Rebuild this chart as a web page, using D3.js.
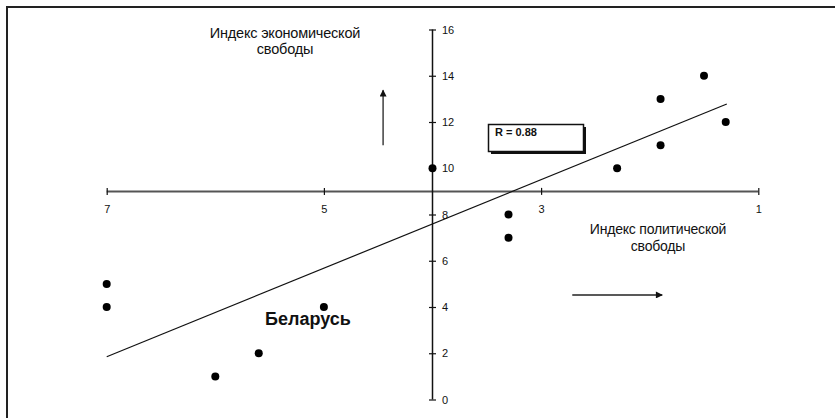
<!DOCTYPE html>
<html>
<head>
<meta charset="utf-8">
<script src="https://cdn.jsdelivr.net/npm/d3@7"></script>
<style>
  body { margin: 0; background: #fff; }
  text { font-family: "Liberation Sans", Arial, sans-serif; fill: #111; }
</style>
</head>
<body>
<div id="screen"></div>
<script>
// data
var polFreedom = [4, 2.3, 1.9, 1.9, 1.5, 1.3, 3.3, 3.3, 7, 7, 5, 5.6, 6];
var ecoFreedom = [10, 10, 13, 11, 14, 12, 8, 7, 5, 4, 4, 2, 1];
var trendX = [7, 1.29];
var trendY = [1.85, 12.78];
var xTicks = [7, 5, 3, 1];
var yTicks = [0, 2, 4, 6, 8, 10, 12, 14, 16];
var rLabel = "R = 0.88";
var yTitle = ["Индекс экономической", "свободы"];
var xTitle = ["Индекс политической", "свободы"];
var countryLabel = "Беларусь";

var width = 835, height = 418;

var svg = d3.select("#screen").append("svg")
    .attr("width", width).attr("height", height);

var x = d3.scaleLinear().domain([7, 1]).range([106.7, 758.3]);
var y = d3.scaleLinear().domain([0, 16]).range([399.5, 29.5]);

// crossing point of the two axes (x = 4, y = 9)
var xCross = x(4), yCross = y(9);

// frame (top and left edge only)
svg.append("line").attr("x1", 6).attr("x2", width).attr("y1", 7).attr("y2", 7)
    .attr("stroke", "#222").attr("stroke-width", 2);
svg.append("line").attr("x1", 7).attr("x2", 7).attr("y1", 6).attr("y2", height)
    .attr("stroke", "#222").attr("stroke-width", 2);

svg.append("defs").append("marker")
    .attr("id", "arrow")
    .attr("viewBox", "0 0 10 10")
    .attr("refX", 9).attr("refY", 5)
    .attr("markerWidth", 9).attr("markerHeight", 7)
    .attr("markerUnits", "userSpaceOnUse")
    .attr("orient", "auto")
    .append("path").attr("d", "M0,0L10,5L0,10z").attr("fill", "#111");

// x axis (horizontal, crossing at y = 9)
svg.append("line")
    .attr("x1", x(7)).attr("x2", x(1)).attr("y1", yCross).attr("y2", yCross)
    .attr("stroke", "#555").attr("stroke-width", 2);
var gx = svg.append("g")
    .attr("transform", "translate(0," + (yCross - 3.5) + ")")
    .call(d3.axisBottom(x).tickValues(xTicks).tickSize(7).tickPadding(10).tickFormat(d3.format("d")));
gx.select(".domain").remove();
gx.selectAll("line").attr("stroke", "#111").attr("stroke-width", 1.2);
gx.selectAll("text").style("font-size", "11px")
    .style("font-family", "'Liberation Sans', Arial, sans-serif").attr("fill", "#111");

// y axis (vertical, crossing at x = 4)
svg.append("line")
    .attr("x1", xCross).attr("x2", xCross).attr("y1", y(0)).attr("y2", y(16))
    .attr("stroke", "#111").attr("stroke-width", 1.5);
var gy = svg.append("g")
    .attr("transform", "translate(" + (xCross - 3.5) + ",0)")
    .call(d3.axisRight(y).tickValues(yTicks).tickSize(7).tickPadding(6));
gy.select(".domain").remove();
gy.selectAll("line").attr("stroke", "#111").attr("stroke-width", 1.2);
gy.selectAll("text").style("font-size", "11px")
    .style("font-family", "'Liberation Sans', Arial, sans-serif").attr("fill", "#111");

// trend line
svg.append("line")
    .attr("x1", x(trendX[0])).attr("y1", y(trendY[0]))
    .attr("x2", x(trendX[1])).attr("y2", y(trendY[1]))
    .attr("stroke", "#111").attr("stroke-width", 1.2);

// points
svg.selectAll("circle.pt")
    .data(polFreedom)
    .enter().append("circle")
    .attr("class", "pt")
    .attr("cx", d => x(d))
    .attr("cy", (d, i) => y(ecoFreedom[i]))
    .attr("r", 4)
    .attr("fill", "#000");

// direction arrows
svg.append("line")
    .attr("x1", x(4.455)).attr("x2", x(4.455)).attr("y1", y(10.99)).attr("y2", y(13.37))
    .attr("stroke", "#222").attr("stroke-width", 1.3).attr("marker-end", "url(#arrow)");
svg.append("line")
    .attr("x1", x(2.713)).attr("x2", x(1.885)).attr("y1", y(4.52)).attr("y2", y(4.52))
    .attr("stroke", "#222").attr("stroke-width", 1.3).attr("marker-end", "url(#arrow)");

// axis titles
var yt = svg.append("text").attr("text-anchor", "middle").style("font-size", "14.5px")
    .style("letter-spacing", "-0.2px");
yTitle.forEach(function(t, i) {
    yt.append("tspan").attr("x", 285).attr("y", 38 + i * 16).text(t);
});
var xt = svg.append("text").attr("text-anchor", "middle").style("font-size", "14px")
    .style("letter-spacing", "-0.2px");
xTitle.forEach(function(t, i) {
    xt.append("tspan").attr("x", 658).attr("y", 234 + i * 17).text(t);
});

// R box with shadow
svg.append("rect").attr("x", 491).attr("y", 127).attr("width", 95).attr("height", 27)
    .attr("fill", "#111");
svg.append("rect").attr("x", 488.5).attr("y", 124.5).attr("width", 95).attr("height", 27)
    .attr("fill", "#fff").attr("stroke", "#111").attr("stroke-width", 1.5);
svg.append("text").attr("x", 495).attr("y", 136)
    .style("font-size", "11px").style("font-weight", "bold").text(rLabel);

// country label
svg.append("text").attr("x", 265).attr("y", 325)
    .style("font-size", "18px").style("font-weight", "bold").text(countryLabel);
</script>
</body>
</html>
